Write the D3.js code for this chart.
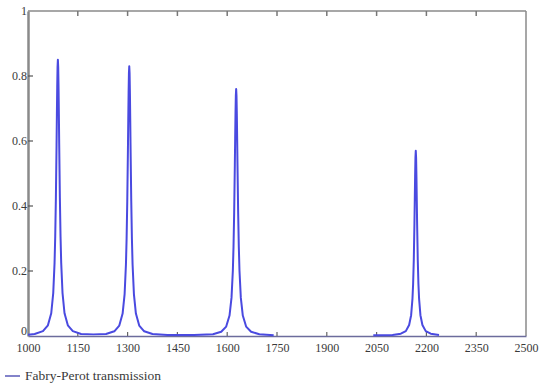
<!DOCTYPE html>
<html><head><meta charset="utf-8">
<script src="https://cdn.jsdelivr.net/npm/d3@7"></script>
<style>body{margin:0;background:#fff}svg{display:block}</style>
</head><body>
<script>
// Data
const xTicks = [1000,1150,1300,1450,1600,1750,1900,2050,2200,2350,2500];
const yTicks = [0,0.2,0.4,0.6,0.8,1];
const legendLabel = "Fabry-Perot transmission";

const seg1Wavelength = [1000,1020,1045,1060,1070,1076,1080,1082,1084,1086,1087,1088,1089,1090,1091,1092,1093,1094,1096,1098,1100,1104,1110,1120,1135,1160,
  1197,
  1235,1260,1275,1285,1291,1295,1297,1299,1301,1302,1303,1304,1305,1306,1307,1308,1309,1311,1313,1315,1319,1325,1335,1350,1375,
  1420,1500,
  1557,1582,1597,1607,1613,1617,1619,1621,1623,1624,1625,1626,1627,1628,1629,1630,1631,1633,1635,1637,1641,1647,1657,1672,1697,
  1740];
const seg1Transmission = [0.004,0.006,0.015,0.033,0.070,0.132,0.225,0.306,0.425,0.588,0.68,0.765,0.827,0.85,0.827,0.765,0.68,0.588,0.425,0.306,0.225,0.132,0.070,0.033,0.015,0.006,
  0.005,
  0.006,0.0145,0.032,0.069,0.129,0.22,0.299,0.415,0.574,0.664,0.747,0.808,0.83,0.808,0.747,0.664,0.574,0.415,0.299,0.22,0.129,0.069,0.032,0.0145,0.006,
  0.003,0.003,
  0.0055,0.013,0.029,0.063,0.118,0.201,0.274,0.38,0.526,0.608,0.684,0.739,0.76,0.739,0.684,0.608,0.526,0.38,0.274,0.201,0.118,0.063,0.029,0.013,0.0055,
  0.002];
const seg2Wavelength = [2040,2098,2123,2138,2148,2154,2158,2160,2162,2164,2165,2166,2167,2168,2169,2170,2171,2172,2174,2176,2178,2182,2188,2198,2213,2238];
const seg2Transmission = [0.002,0.003,0.007,0.015,0.034,0.064,0.114,0.160,0.234,0.348,0.419,0.491,0.548,0.57,0.548,0.491,0.419,0.348,0.234,0.160,0.114,0.064,0.034,0.015,0.007,0.003];

const W = 539, H = 386;
const mLeft = 28, mRight = 526, mTop = 11, mBottom = 336;

const svg = d3.select("body").append("svg").attr("width", W).attr("height", H);
const x = d3.scaleLinear().domain([1000,2500]).range([mLeft,mRight]);
const y = d3.scaleLinear().domain([0,1]).range([mBottom,mTop]);

const axisColor = "#8a8a8a";
const textColor = "#3a3a3a";
const serif = '"Liberation Serif"';

// frame: top and right borders
svg.append("line").attr("x1",mLeft).attr("x2",mRight).attr("y1",mTop).attr("y2",mTop)
  .attr("stroke",axisColor).attr("stroke-width",1.5);
svg.append("line").attr("x1",mRight).attr("x2",mRight).attr("y1",mTop).attr("y2",mBottom)
  .attr("stroke",axisColor).attr("stroke-width",1.5);

// top ticks
svg.append("g").selectAll("line").data(xTicks.slice(1,-1)).join("line")
  .attr("x1",d=>x(d)).attr("x2",d=>x(d)).attr("y1",mTop).attr("y2",mTop+5)
  .attr("stroke","#777").attr("stroke-width",1.5);

// bottom axis
const xAxis = d3.axisBottom(x).tickValues(xTicks).tickSize(0).tickPadding(7).tickFormat(d3.format("d"));
const gx = svg.append("g").attr("transform",`translate(0,${mBottom})`).call(xAxis);
gx.attr("font-family",serif);
gx.select(".domain").attr("stroke","#6c6c9c").attr("stroke-width",1.5);
gx.selectAll("text").attr("fill",textColor).style("font-family",serif).style("font-size","12px");
svg.append("g").selectAll("line").data(xTicks.slice(1,-1)).join("line")
  .attr("x1",d=>x(d)).attr("x2",d=>x(d)).attr("y1",mBottom).attr("y2",mBottom-4)
  .attr("stroke","#666").attr("stroke-width",1.2);

// left axis
const yAxis = d3.axisLeft(y).tickValues(yTicks).tickSize(0).tickPadding(1)
  .tickFormat(d => d === 0 ? "0" : d === 1 ? "1" : d3.format(".1f")(d));
const gy = svg.append("g").attr("transform",`translate(${mLeft},0)`).call(yAxis);
gy.attr("font-family",serif);
gy.select(".domain").attr("stroke",axisColor).attr("stroke-width",2.5);
gy.selectAll("text").attr("fill",textColor).style("font-family",serif).style("font-size","12px");
gy.selectAll(".tick").filter(d=>d===0).select("text").attr("dy","-0.1em");
svg.append("g").selectAll("line").data(yTicks.slice(1,-1)).join("line")
  .attr("x1",mLeft).attr("x2",mLeft+5).attr("y1",d=>y(d)).attr("y2",d=>y(d))
  .attr("stroke","#555").attr("stroke-width",1.2);

// curves
const line = d3.line().x(d=>x(d[0])).y(d=>y(d[1]));
const seg1 = seg1Wavelength.map((w,i)=>[w,seg1Transmission[i]]);
const seg2 = seg2Wavelength.map((w,i)=>[w,seg2Transmission[i]]);
[seg1, seg2].forEach(s => {
  svg.append("path").datum(s).attr("d",line).attr("fill","none")
    .attr("stroke","#4a4ae0").attr("stroke-width",2).attr("stroke-linejoin","round");
});

// legend
svg.append("line").attr("x1",5).attr("x2",20).attr("y1",376).attr("y2",376)
  .attr("stroke","#5a5ab8").attr("stroke-width",1.5);
svg.append("text").attr("x",25).attr("y",380).text(legendLabel)
  .attr("fill",textColor).style("font-family",serif).style("font-size","13.5px");
</script>
</body></html>
